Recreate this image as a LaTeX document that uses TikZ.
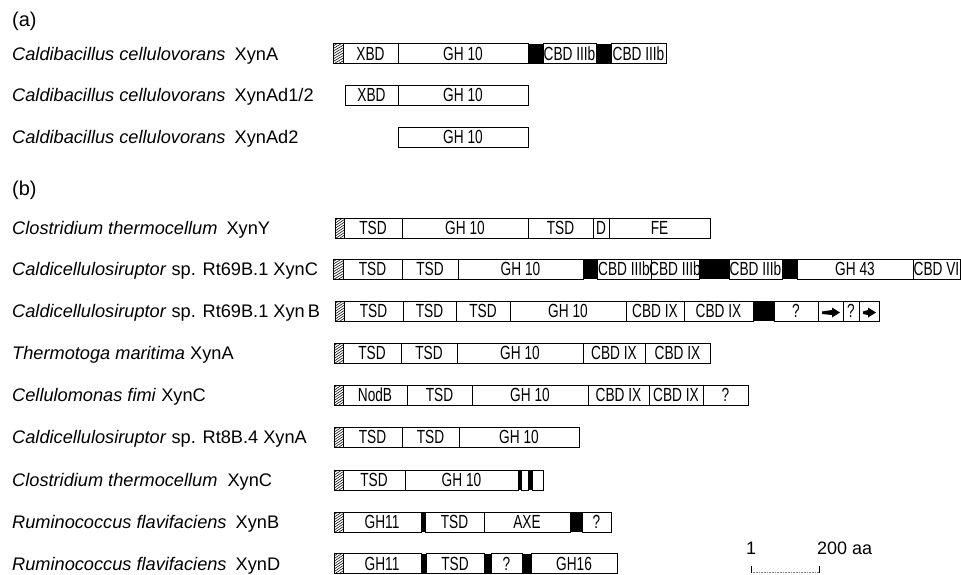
\documentclass[tikz,border=0pt]{standalone}
\usepackage{fontspec}
\setmainfont{Liberation Sans}
\newfontfamily\domfont[FakeStretch=0.72]{Liberation Sans}
\usetikzlibrary{arrows.meta}

\tikzset{
  segline/.style={draw=black, line width=0.8pt},
  segtext/.style={font=\domfont\fontsize{19}{19}\selectfont, inner sep=0pt, anchor=base},
  rowlabel/.style={font=\fontsize{18.2}{18.2}\selectfont, inner sep=0pt, anchor=base west},
  panel/.style={font=\fontsize{20}{20}\selectfont, inner sep=0pt, anchor=base west},
  scaletext/.style={font=\fontsize{18}{18}\selectfont, inner sep=0pt, anchor=base},
}

\newcounter{segno}
% plain domain box with a centred name
\newcommand\dseg[4]{%
  \draw[segline] (#1,#3-10) rectangle (#2,#3+10);
  \stepcounter{segno}%
  \node[segtext] (seg\thesegno) at ({(#1+#2)/2},#3+6.8) {#4};}
% black linker block
\newcommand\blkseg[3]{%
  \fill[black] (#1,#3-10) rectangle (#2,#3+10);}
% hatched signal peptide
\newcommand\hatchseg[3]{%
  \draw[segline] (#1,#3-10) rectangle (#2,#3+10);
  \begin{scope}
    \clip (#1,#3-10) rectangle (#2,#3+10);
    \foreach \k in {0,2.6,...,33} \draw[line width=0.55pt] (#1,#3-10+\k) -- (#2,#3-16+\k);
  \end{scope}}
% box holding a small arrow
\newcommand\arrseg[3]{%
  \draw[segline] (#1,#3-10) rectangle (#2,#3+10);
  \fill[black] (#1+4,#3+0.5) -- (#2-11,#3-1) -- (#2-11,#3+4) -- (#1+4,#3+3) -- cycle;
  \fill[black] (#2-11,#3-3.5) -- (#2-3,#3+1.5) -- (#2-11,#3+6.5) -- cycle;}

\begin{document}
\begin{tikzpicture}[x=1pt,y=-1pt]
\useasboundingbox (0,0) rectangle (961,574);

% ---------- panel (a) ----------
\node[panel] (pa) at (12,26) {(a)};

\node[rowlabel] (la1) at (12,60) {\textit{Caldibacillus cellulovorans}\hspace{4pt} XynA};
\hatchseg{333}{343}{53.5}
\dseg{343}{398}{53.5}{XBD}
\dseg{398}{528}{53.5}{GH 10}
\blkseg{528}{543}{53.5}
\dseg{543}{596}{53.5}{CBD IIIb}
\blkseg{596}{611}{53.5}
\dseg{611}{666}{53.5}{CBD IIIb}

\node[rowlabel] (la2) at (12,101.5) {\textit{Caldibacillus cellulovorans}\hspace{4pt} XynAd1/2};
\dseg{345}{398}{95}{XBD}
\dseg{398}{528}{95}{GH 10}

\node[rowlabel] (la3) at (12,143.5) {\textit{Caldibacillus cellulovorans}\hspace{4pt} XynAd2};
\dseg{398}{528}{137}{GH 10}

% ---------- panel (b) ----------
\node[panel] (pb) at (12,195) {(b)};

% Clostridium thermocellum XynY
\node[rowlabel] (lb1) at (12,234.5) {\textit{Clostridium thermocellum}\hspace{4pt} XynY};
\hatchseg{335}{344}{228}
\dseg{344}{402}{228}{TSD}
\dseg{402}{528}{228}{GH 10}
\dseg{528}{593}{228}{TSD}
\dseg{593}{609}{228}{D}
\dseg{609}{710}{228}{FE}

% Caldicellulosiruptor Rt69B.1 XynC
\node[rowlabel] (lb2) at (12,275.5) {\textit{Caldicellulosiruptor} sp. Rt69B.1 XynC};
\hatchseg{333}{343}{269}
\dseg{343}{402}{269}{TSD}
\dseg{402}{458}{269}{TSD}
\dseg{458}{583}{269}{GH 10}
\blkseg{583}{597}{269}
\dseg{597}{651}{269}{CBD IIIb}
\dseg{651}{699}{269}{CBD IIIb}
\blkseg{699}{729}{269}
\dseg{729}{782}{269}{CBD IIIb}
\blkseg{782}{797}{269}
\dseg{797}{913}{269}{GH 43}
\dseg{913}{960}{269}{CBD VI}

% Caldicellulosiruptor Rt69B.1 XynB
\node[rowlabel] (lb3) at (12,317.5) {\textit{Caldicellulosiruptor} sp. Rt69B.1 Xyn\,B};
\hatchseg{335}{344}{311}
\dseg{344}{403}{311}{TSD}
\dseg{403}{456}{311}{TSD}
\dseg{456}{510}{311}{TSD}
\dseg{510}{626}{311}{GH 10}
\dseg{626}{684}{311}{CBD IX}
\dseg{684}{753}{311}{CBD IX}
\blkseg{753}{774}{311}
\dseg{774}{818}{311}{?}
\arrseg{818}{843}{311}
\dseg{843}{859}{311}{?}
\arrseg{859}{879}{311}

% Thermotoga maritima XynA
\node[rowlabel] (lb4) at (12,359.5) {\textit{Thermotoga maritima} XynA};
\hatchseg{334}{343}{353}
\dseg{343}{401}{353}{TSD}
\dseg{401}{457}{353}{TSD}
\dseg{457}{583}{353}{GH 10}
\dseg{583}{645}{353}{CBD IX}
\dseg{645}{710}{353}{CBD IX}

% Cellulomonas fimi XynC
\node[rowlabel] (lb5) at (12,401.5) {\textit{Cellulomonas fimi} XynC};
\hatchseg{334}{343}{395}
\dseg{343}{407}{395}{NodB}
\dseg{407}{472}{395}{TSD}
\dseg{472}{588}{395}{GH 10}
\dseg{588}{649}{395}{CBD IX}
\dseg{649}{703}{395}{CBD IX}
\dseg{703}{748}{395}{?}

% Caldicellulosiruptor Rt8B.4 XynA
\node[rowlabel] (lb6) at (12,443.5) {\textit{Caldicellulosiruptor} sp. Rt8B.4 XynA};
\hatchseg{334}{343}{437}
\dseg{343}{402}{437}{TSD}
\dseg{402}{459}{437}{TSD}
\dseg{459}{579}{437}{GH 10}

% Clostridium thermocellum XynC
\node[rowlabel] (lb7) at (12,486.5) {\textit{Clostridium thermocellum}\hspace{5pt} XynC};
\hatchseg{334}{343}{480}
\dseg{343}{405}{480}{TSD}
\dseg{405}{518}{480}{GH 10}
\blkseg{518}{521.5}{480}
\dseg{521.5}{528}{480}{}
\blkseg{528}{532}{480}
\dseg{532}{543}{480}{}

% Ruminococcus flavifaciens XynB
\node[rowlabel] (lb8) at (12,528.5) {\textit{Ruminococcus flavifaciens}\hspace{4pt} XynB};
\hatchseg{334}{343}{522}
\dseg{343}{421}{522}{GH11}
\blkseg{421}{425}{522}
\dseg{425}{484}{522}{TSD}
\dseg{484}{570}{522}{AXE}
\blkseg{570}{582}{522}
\dseg{582}{611}{522}{?}

% Ruminococcus flavifaciens XynD
\node[rowlabel] (lb9) at (12,570.5) {\textit{Ruminococcus flavifaciens}\hspace{4pt} XynD};
\hatchseg{334}{343}{563.5}
\dseg{343}{421}{563.5}{GH11}
\blkseg{421}{426}{563.5}
\dseg{426}{484}{563.5}{TSD}
\blkseg{484}{491}{563.5}
\dseg{491}{522}{563.5}{?}
\blkseg{522}{531}{563.5}
\dseg{531}{617}{563.5}{GH16}

% ---------- scale bar ----------
\node[scaletext] (s1) at (751,554) {1};
\node[scaletext, anchor=base west] (s200) at (817,554) {200 aa};
\coordinate (sbl) at (751,572.5);
\coordinate (sbr) at (819,572.5);
\draw[gray, line width=0.6pt, densely dotted] (sbl) -- (sbr);
\draw[line width=0.7pt] (sbl) -- ++(0,-7);
\draw[line width=0.7pt] (sbr) -- ++(0,-7);
\end{tikzpicture}
\end{document}
